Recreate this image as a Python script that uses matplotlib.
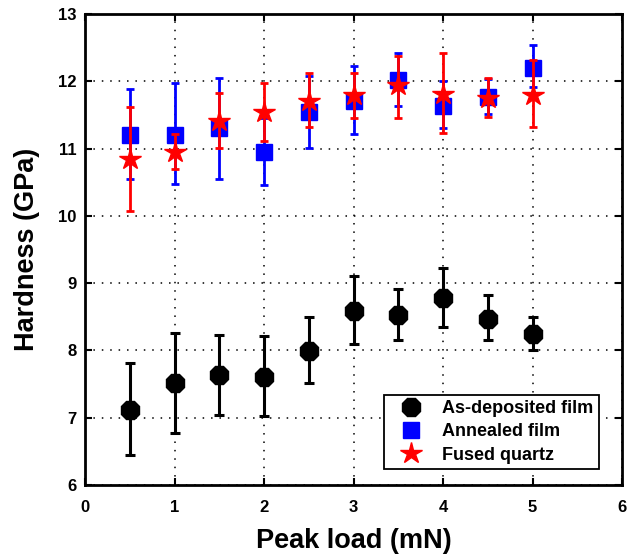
import matplotlib
matplotlib.use("Agg")
import matplotlib.pyplot as plt
from matplotlib.lines import Line2D
import numpy as np

plt.rcParams['font.family'] = ['Liberation Sans', 'DejaVu Sans']
plt.rcParams['font.weight'] = 'bold'

loads = [0.5, 1.0, 1.5, 2.0, 2.5, 3.0, 3.5, 4.0, 4.5, 5.0]

asdep = [7.12, 7.51, 7.63, 7.60, 7.99, 8.58, 8.52, 8.78, 8.47, 8.24]
asdep_hi = [7.82, 8.26, 8.23, 8.21, 8.50, 9.11, 8.92, 9.22, 8.83, 8.50]
asdep_lo = [6.45, 6.77, 7.04, 7.02, 7.52, 8.09, 8.15, 8.35, 8.15, 8.00]

anneal = [11.20, 11.20, 11.30, 10.95, 11.54, 11.71, 12.02, 11.63, 11.76, 12.20]
anneal_hi = [11.89, 11.97, 12.05, 11.46, 12.08, 12.22, 12.42, 12.00, 12.03, 12.54]
anneal_lo = [10.55, 10.48, 10.55, 10.46, 11.01, 11.21, 11.64, 11.31, 11.52, 11.91]

quartz = [10.84, 10.95, 11.41, 11.54, 11.71, 11.79, 11.94, 11.81, 11.75, 11.80]
quartz_hi = [11.62, 11.21, 11.82, 11.97, 12.12, 12.12, 12.37, 12.42, 12.05, 12.31]
quartz_lo = [10.07, 10.70, 11.01, 11.11, 11.32, 11.46, 11.46, 11.23, 11.47, 11.32]

labels = ['As-deposited film', 'Annealed film', 'Fused quartz']
xticks = [0, 1, 2, 3, 4, 5, 6]
yticks = [6, 7, 8, 9, 10, 11, 12, 13]

fig = plt.figure(figsize=(6.28, 5.6), dpi=100)
ax = fig.add_axes([85/628, 1-485/560, 537/628, 471/560])

def yerr(v, lo, hi):
    v = np.array(v); lo = np.array(lo); hi = np.array(hi)
    return np.vstack([v - lo, hi - v])

ax.errorbar(loads, asdep, yerr=yerr(asdep, asdep_lo, asdep_hi), fmt='8',
            color='black', ms=14, elinewidth=2.2, capsize=3.3, capthick=2.2,
            label=labels[0], zorder=3)
ax.errorbar(loads, anneal, yerr=yerr(anneal, anneal_lo, anneal_hi), fmt='s',
            color='#0000ff', ms=11.5, elinewidth=2.0, capsize=3, capthick=2.0,
            label=labels[1], zorder=4)
ax.errorbar(loads, quartz, yerr=yerr(quartz, quartz_lo, quartz_hi), fmt='*',
            color='#ff0000', ms=16, elinewidth=2.0, capsize=3, capthick=2.0,
            label=labels[2], zorder=5)

ax.set_xlim(0, 6)
ax.set_ylim(6, 13)
ax.set_xticks(xticks)
ax.set_yticks(yticks)
ax.set_xticklabels([str(t) for t in xticks], fontsize=12, fontweight='bold')
ax.set_yticklabels([str(t) for t in yticks], fontsize=12, fontweight='bold')
ax.tick_params(direction='in', length=5, width=1.5, top=True, right=True)
ax.tick_params(axis='x', pad=11)
ax.tick_params(axis='y', pad=6)
ax.grid(True, color='black', linestyle=(0, (1, 4.5)), linewidth=1.1)
for s in ax.spines.values():
    s.set_linewidth(2)

ax.set_xlabel('Peak load (mN)', fontsize=19.5, fontweight='bold', labelpad=9)
ax.set_ylabel('Hardness (GPa)', fontsize=19.5, fontweight='bold', labelpad=13)

h = [Line2D([], [], marker='8', color='black', ls='none', ms=14),
     Line2D([], [], marker='s', color='#0000ff', ls='none', ms=11.5),
     Line2D([], [], marker='*', color='#ff0000', ls='none', ms=16)]
leg = ax.legend(h, labels, loc='lower right', bbox_to_anchor=(0.957, 0.034),
                borderaxespad=0, fancybox=False, framealpha=1,
                edgecolor='black', prop={'weight': 'bold', 'size': 13},
                labelspacing=0.35, handletextpad=0.6, borderpad=0.3,
                handlelength=2.3)
leg.get_frame().set_linewidth(1.3)

fig.savefig('out.png', dpi=100)
